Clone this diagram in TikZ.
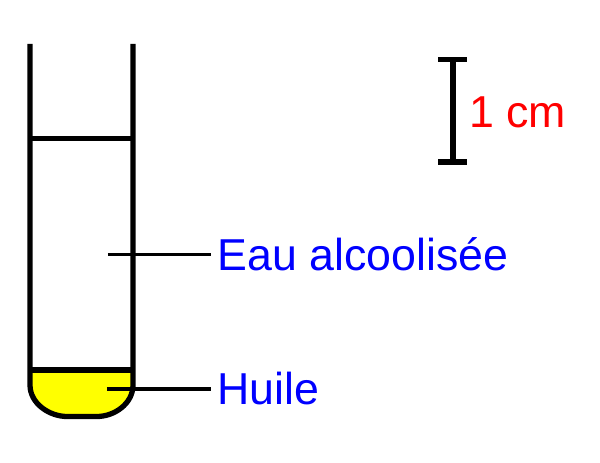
\documentclass[tikz,border=0pt]{standalone}
\usepackage{fontspec}
\setmainfont{Liberation Sans}
\usepackage{tikz}
\definecolor{jaunehuile}{RGB}{255,255,0}
\definecolor{bleulegende}{RGB}{0,0,255}
\definecolor{rougeechelle}{RGB}{255,0,0}
\tikzset{
  paroi/.style={draw=black, line width=3pt},
  trait/.style={draw=black, line width=1.9pt},
  legende/.style={anchor=base west, inner xsep=3.6pt, inner ysep=0pt, text=bleulegende, font=\fontsize{25.45}{30}\selectfont},
  echelle/.style={anchor=base west, inner sep=0pt, text=rougeechelle, font=\fontsize{25.45}{30}\selectfont}
}
\begin{document}
\begin{tikzpicture}[x=.02cm, y=-.02cm]
\useasboundingbox (0,0) rectangle (600,463);
% huile
\fill[jaunehuile] (30,370) -- (30,385) .. controls (30,404) and (50,416.5) .. (67,416.5) -- (97,416.5) .. controls (114,416.5) and (133,404) .. (133,385) -- (133,370) -- cycle;
% tube
\draw[paroi] (30,44) -- (30,385) .. controls (30,404) and (50,416.5) .. (67,416.5) -- (97,416.5) .. controls (114,416.5) and (133,404) .. (133,385) -- (133,44);
\draw[paroi] (30,138.5) -- (133,138.5);
\draw[paroi] (30,370) -- (133,370);
% legendes
\coordinate (eaupt) at (108,254.5);
\coordinate (huilept) at (107,389);
\node[legende] (eau) at (211,271) {Eau alcoolisée};
\node[legende] (huile) at (211,405) {Huile};
\draw[trait] (eaupt) -- (eaupt -| eau.west);
\draw[trait] (huilept) -- (huilept -| huile.west);
% echelle
\coordinate (barhaut) at (453,59.5);
\coordinate (barbas) at (453,162);
\draw[paroi] (barhaut) -- (barbas);
\draw[paroi] ([xshift=-14.5*.02cm]barhaut) -- ([xshift=14.5*.02cm]barhaut);
\draw[paroi] ([xshift=-14.5*.02cm]barbas) -- ([xshift=14.5*.02cm]barbas);
\node[echelle] (cm) at (469,128) {1 cm};
\end{tikzpicture}
\end{document}
